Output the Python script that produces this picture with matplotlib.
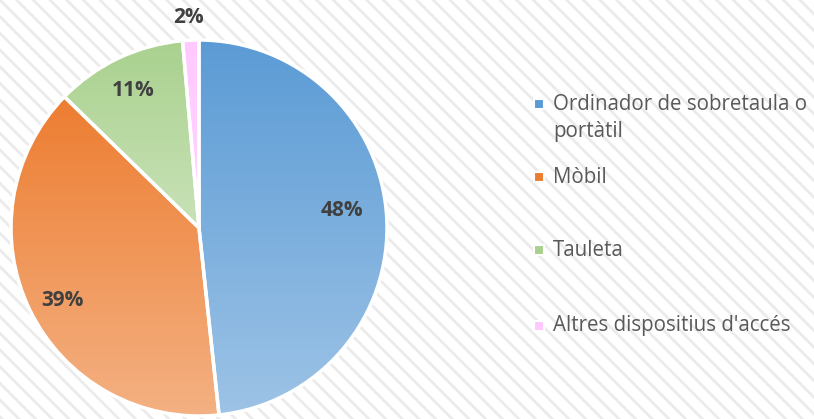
import numpy as np
import matplotlib.pyplot as plt
from matplotlib.colors import LinearSegmentedColormap
from matplotlib.patches import Rectangle

labels = ["Ordinador de sobretaula o\nportàtil", "Mòbil", "Tauleta", "Altres dispositius d'accés"]
values = [48.3, 39.0, 11.3, 1.4]
pct_labels = ["48%", "39%", "11%", "2%"]
top_colors = ["#5B9BD5", "#ED7D31", "#A9D18E", "#FFC9FF"]
bottom_colors = ["#9DC3E6", "#F4B183", "#C9E2B8", "#FFD6FF"]

plt.rcParams['font.family'] = ['Open Sans', 'DejaVu Sans']
plt.rcParams['hatch.linewidth'] = 2.0
plt.rcParams['hatch.color'] = '#ebebeb'

W, H = 814, 419
fig = plt.figure(figsize=(W / 100, H / 100), dpi=100)
ax = fig.add_axes([0, 0, 1, 1])
ax.axis('off')

# striped background
bg = Rectangle((0, 0), W, H, facecolor='white', edgecolor='#ebebeb',
               hatch='\\\\', linewidth=0, zorder=0)
ax.add_patch(bg)

cx, cy, r = 199, H - 228, 188
wedges, _ = ax.pie(values, startangle=90, counterclock=False, center=(cx, cy),
                   radius=r, colors=top_colors,
                   wedgeprops=dict(edgecolor='white', linewidth=2.5))

# vertical gradient inside each wedge
for w, c0, c1 in zip(wedges, top_colors, bottom_colors):
    ext = w.get_path().get_extents()
    cmap = LinearSegmentedColormap.from_list('g', [c1, c0])
    grad = np.linspace(0, 1, 256).reshape(-1, 1)
    im = ax.imshow(grad, cmap=cmap, origin='lower', aspect='auto',
                   extent=(ext.x0, ext.x1, ext.y0, ext.y1), zorder=1)
    im.set_clip_path(w)
    w.set_facecolor('none')
    w.set_zorder(2)
ax.set_xlim(0, W)
ax.set_ylim(0, H)
ax.set_aspect('equal')

# percentage labels
pos = [(342, 210), (62, 300), (133, 90), (188, 17)]
for t, (x, y) in zip(pct_labels, pos):
    ax.text(x, H - y, t, ha='center', va='center', fontsize=15,
            fontweight='bold', color='#404040', zorder=3)

# legend
legend_y = [104, 177, 250, 326]
for lab, c, y in zip(labels, top_colors, legend_y):
    ax.add_patch(Rectangle((534, H - y - 5), 10, 10, facecolor=c,
                           edgecolor='white', linewidth=1.5, zorder=3))
    ty = y + 14 if '\n' in lab else y
    ax.text(553, H - ty, lab, ha='left', va='center',
            fontsize=14.8, color='#595959', linespacing=1.35, zorder=3)

fig.savefig('out.png', dpi=100)
